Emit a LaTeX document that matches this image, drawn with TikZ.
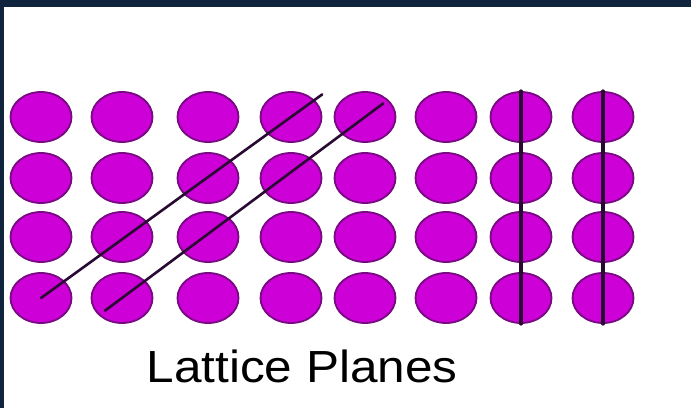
\documentclass[tikz,border=0pt]{standalone}
\usepackage{fontspec}
\setmainfont{Liberation Sans}
\usetikzlibrary{calc}
\usetikzlibrary{shapes.geometric}
\definecolor{atomfill}{RGB}{205,0,215}
\definecolor{atomedge}{RGB}{120,10,130}
\definecolor{planeline}{RGB}{40,10,50}
\definecolor{framenavy}{RGB}{16,36,62}

\begin{document}
\begin{tikzpicture}[x=1pt, y=-1pt,
    atom/.style={ellipse, fill=atomfill, draw=atomedge, line width=1.8pt, minimum width=61pt, minimum height=50pt, inner sep=0pt},
    plane/.style={line width=2.6pt, color=planeline, line cap=round}]
    \useasboundingbox (0,0) rectangle (691,408);
    \fill[white] (0,0) rectangle (691,408);
    \fill[framenavy] (0,0) rectangle (691,7);
    \fill[framenavy] (0,0) rectangle (4,408);
    % the lattice points
    \foreach \x [count=\i] in {41,122,208,291,365,446,521,603}
        \foreach \y [count=\j] in {117,178,237,298}
            \node[atom] (p-\i-\j) at (\x,\y) {};
    % planes
    \draw[plane] (p-1-4.center) -- ($(p-1-4)!1.125!(p-4-1)$);
    \draw[plane] ($(p-2-4)!-0.07!(p-5-1)$) -- ($(p-2-4)!1.075!(p-5-1)$);
    \draw[plane, line width=3.4pt] (p-7-1.north) -- (p-7-4.south);
    \draw[plane, line width=3.4pt] (p-8-1.north) -- (p-8-4.south);
    \node[anchor=base, xscale=1.1, font=\fontsize{45}{50}\selectfont] (title) at (302,382) {Lattice Planes};
\end{tikzpicture}
\end{document}
